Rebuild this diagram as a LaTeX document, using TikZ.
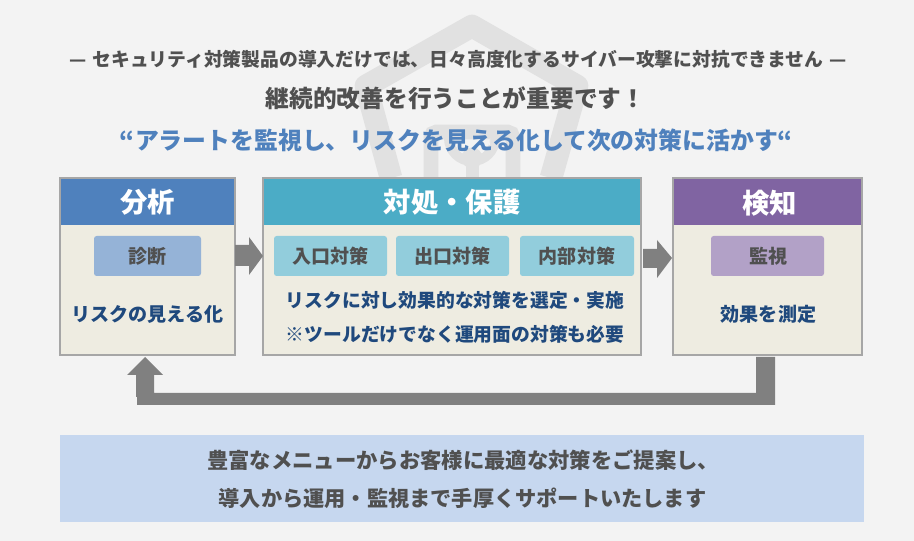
\documentclass[tikz,border=0pt]{standalone}
\usepackage{fontspec}
\setmainfont{Noto Sans CJK JP}
\definecolor{bgc}{HTML}{F3F3F3}
\definecolor{wm}{HTML}{E1E1E1}
\definecolor{txtc}{HTML}{505050}
\definecolor{bluet}{HTML}{4F81BD}
\definecolor{navy}{HTML}{1F497D}
\definecolor{boxc}{HTML}{EEECE1}
\definecolor{edge}{HTML}{A6A6A6}
\definecolor{arr}{HTML}{808080}
\definecolor{banner}{HTML}{C6D7EF}
\definecolor{teal}{HTML}{4BACC6}
\definecolor{purp}{HTML}{8064A2}
\definecolor{tagblue}{HTML}{95B3D7}
\definecolor{tagteal}{HTML}{92CDDC}
\definecolor{tagpurp}{HTML}{B2A1C7}
\tikzset{
 x=0.75pt,y=-0.75pt,
 txt/.style={text=txtc,inner sep=0pt},
 body/.style={draw=edge,line width=1.5pt,fill=boxc,rectangle,inner sep=0pt,outer sep=0pt,anchor=north west,minimum height=177*0.75pt},
 head/.style={rectangle,text=white,inner sep=0pt,outer sep=0pt,anchor=north west,minimum height=46*0.75pt,font=\bfseries\fontsize{20.5}{24}\selectfont},
 tagbox/.style={rectangle,rounded corners=2pt,anchor=north west,minimum height=40*0.75pt,inner sep=0pt,outer sep=0pt,text=txtc,font=\bfseries\fontsize{14.3}{17}\selectfont},
 bodytxt/.style={font=\bfseries\fontsize{14.1}{17}\selectfont,text=navy,inner sep=0pt},
 flow/.style={fill=arr,draw=none},
}
\begin{document}
\begin{tikzpicture}
\useasboundingbox (0,0) rectangle (914,541);
\fill[bgc] (0,0) rectangle (914,541);
% watermark
\draw[wm,line join=round,line cap=butt,line width=17pt] (391,178) -- (366,86) -- (472,26) -- (577,86) -- (551,178);
\draw[wm,rounded corners=4pt,line width=11pt] (431,178) -- (431,132) -- (513,132) -- (513,178);
\draw[wm,line width=7.5pt] (449,138) arc (180:0:23);
\fill[bgc] (454,145) -- (454,138) arc (180:0:18) -- (490,145) -- cycle;
\fill[wm] (472,158) circle (10.5);
\fill[wm] (465.5,158) rectangle (478.5,178);
% texts
\node[txt,font=\bfseries\fontsize{14.1}{17}\selectfont] (t1) at (458,59) {—\hspace{1pt} セキュリティ対策製品の導入だけでは、日々高度化するサイバー攻撃に対抗できません \hspace{1pt}—};
\node[txt,font=\bfseries\fontsize{17.8}{21}\selectfont] (t2) at (455.5,98) {継続的改善を行うことが重要です！};
\node[txt,font=\bfseries\fontsize{17.9}{22}\selectfont,text=bluet] (t3) at (456.5,140) {“アラートを監視し、リスクを見える化して次の対策に活かす“};
% column 1
\node[body,minimum width=175*0.75pt] (b1) at (60,178) {};
\node[head,fill=bluet,minimum width=173.6*0.75pt] (h1) at (60.7,179) {分析};
\node[tagbox,fill=tagblue,minimum width=107*0.75pt] (g1) at (94,236) {診断};
\node[bodytxt,font=\bfseries\fontsize{14.3}{17}\selectfont] (s1) at (147.5,314) {リスクの見える化};
% column 2
\node[body,minimum width=378*0.75pt] (b2) at (263,178) {};
\node[head,fill=teal,minimum width=376.6*0.75pt] (h2) at (263.7,179) {対処・保護};
\node[tagbox,fill=tagteal,minimum width=113*0.75pt] (g2) at (274,236) {入口対策};
\node[tagbox,fill=tagteal,minimum width=113*0.75pt] (g3) at (396,236) {出口対策};
\node[tagbox,fill=tagteal,minimum width=114*0.75pt] (g4) at (520,236) {内部対策};
\node[bodytxt] (s2) at (455,300) {リスクに対し効果的な対策を選定・実施};
\node[bodytxt] (s3) at (455,334) {※ツールだけでなく運用面の対策も必要};
% column 3
\node[body,minimum width=189*0.75pt] (b3) at (673,178) {};
\node[head,fill=purp,minimum width=187.6*0.75pt,text depth=0pt] (h3) at (673.7,179) {\hspace{3pt}検知};
\node[tagbox,fill=tagpurp,minimum width=113*0.75pt] (g5) at (711,236) {\hspace{1.5pt}監視};
\node[bodytxt,font=\bfseries\fontsize{14.3}{17}\selectfont] (s4) at (768.5,314) {効果を測定};
% arrows, anchored on the boxes they leave
\fill[flow,shift={(b1.east)}] (0,-21.5) -- (14,-21.5) -- (14,-29.5) -- (28,-10.5) -- (14,8.5) -- (14,-0.5) -- (0,-0.5) -- cycle;
\fill[flow,shift={(b2.east)}] (2,-17.5) -- (16,-17.5) -- (16,-26.5) -- (31,-8.5) -- (16,11.5) -- (16,1.5) -- (2,1.5) -- cycle;
\fill[flow,shift={(b3.south)}] (-11.5,2) -- (7.5,2) -- (7.5,50) -- (-630.5,50) -- (-630.5,42) -- (-631.5,42) -- (-631.5,20) -- (-640.5,20) -- (-622.5,2) -- (-604.5,20) -- (-613.5,20) -- (-613.5,38) -- (-11.5,38) -- cycle;
% banner
\node[rectangle,fill=banner,minimum width=804*0.75pt,minimum height=87*0.75pt,inner sep=0pt,outer sep=0pt,anchor=north west] (bn) at (60,435) {};
\node[txt,font=\bfseries\fontsize{16}{19}\selectfont] (c1) at (463,460) {豊富なメニューからお客様に最適な対策をご提案し、};
\node[txt,font=\bfseries\fontsize{15.9}{19}\selectfont] (c2) at (462.5,498) {導入から運用・監視まで手厚くサポートいたします};
\end{tikzpicture}
\end{document}
